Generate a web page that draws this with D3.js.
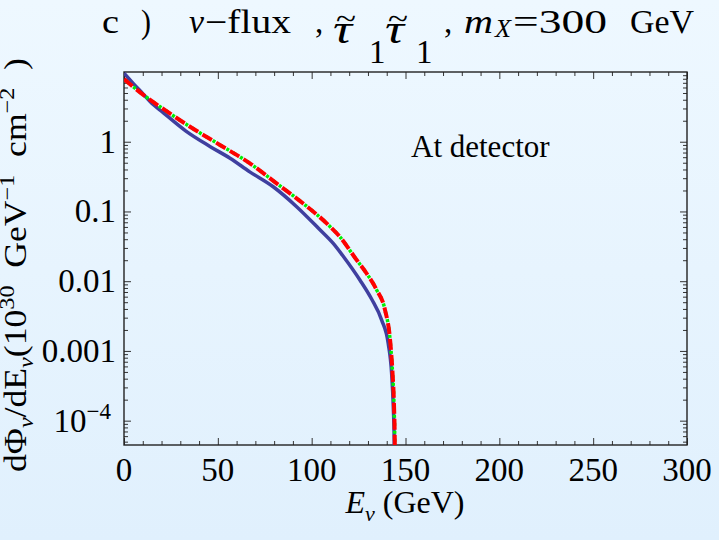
<!DOCTYPE html>
<html>
<head>
<meta charset="utf-8">
<script src="https://cdn.jsdelivr.net/npm/d3@7"></script>
<style>
body { margin: 0; background: #e8f4fe; }
svg text { font-family: 'Liberation Serif', 'DejaVu Serif', serif; fill: #000; }
</style>
</head>
<body>
<svg id="chart" width="719" height="540"></svg>
<script>
'use strict';

// energies (GeV) and flux (10^30 GeV^-1 cm^-2)
var blueE = [0, 5, 10, 14, 21, 33, 46, 56.5, 67, 79.5, 92, 104, 111.5, 117, 125.7, 132, 137.3, 140.8, 142.6, 143.5, 144.0, 144.1];
var blueFlux = [9.6, 6.8, 4.9, 3.75, 2.6, 1.42, 0.85, 0.58, 0.37, 0.226, 0.117, 0.056, 0.0348, 0.0224, 0.0104, 0.0055, 0.00277, 0.00128, 0.00048, 0.000158, 0.00005, 0.000001];

var redE = [0, 5, 10.3, 19.2, 35.2, 51.1, 67.1, 81.3, 95.5, 108, 115, 124, 129.3, 134.5, 139.1, 141.8, 143.1, 143.9, 144.3, 144.4];
var redFlux = [7.9, 6.1, 4.7, 3.18, 1.64, 0.9, 0.49, 0.253, 0.13, 0.0675, 0.0434, 0.0201, 0.0129, 0.0076, 0.00385, 0.00143, 0.00048, 0.00016, 0.00005, 0.000001];

var greenE = [0, 5, 10.3, 19.2, 35.2, 51.1, 67.1, 81.3, 95.5, 108, 115, 124, 129.3, 134.5, 139.1, 141.8, 143.1, 143.9, 144.3, 144.4];
var greenFlux = [7.9, 6.1, 4.7, 3.18, 1.64, 0.9, 0.49, 0.253, 0.13, 0.0675, 0.0434, 0.0201, 0.0129, 0.0076, 0.00385, 0.00143, 0.00048, 0.00016, 0.00005, 0.000001];

var xMajor = [0, 50, 100, 150, 200, 250, 300];
var xMinor = [10, 20, 30, 40, 60, 70, 80, 90, 110, 120, 130, 140, 160, 170, 180, 190, 210, 220, 230, 240, 260, 270, 280, 290];
var yMajor = [1, 0.1, 0.01, 0.001, 0.0001];
var yTickLabels = ['1', '0.1', '0.01', '0.001', '10'];

var svg = d3.select('#chart');
var plotLeft = 124, plotRight = 687, plotTop = 72, plotBottom = 445;

var x = d3.scaleLinear().domain([0, 300]).range([plotLeft, plotRight]);
var y = d3.scaleLog().domain([Math.pow(10, -4.349), 10]).range([plotBottom, plotTop]);

// background gradient
var defs = svg.append('defs');
var grad = defs.append('linearGradient').attr('id', 'bg')
    .attr('x1', 0).attr('y1', 0).attr('x2', 0).attr('y2', 1);
grad.append('stop').attr('offset', '0%').attr('stop-color', '#eef8ff');
grad.append('stop').attr('offset', '100%').attr('stop-color', '#e0f0fd');
svg.append('rect').attr('width', 719).attr('height', 540).attr('fill', 'url(#bg)');

defs.append('clipPath').attr('id', 'plot-clip')
    .append('rect')
    .attr('x', plotLeft).attr('y', plotTop)
    .attr('width', plotRight - plotLeft).attr('height', plotBottom - plotTop);

// minor log ticks (2..9 in each decade)
var yMinor = [];
for (var k = -5; k <= 0; k++) {
    for (var m = 2; m <= 9; m++) {
        var v = m * Math.pow(10, k);
        if (v >= y.domain()[0] && v <= y.domain()[1]) {
            yMinor.push(v);
        }
    }
}

function drawAxis(axis, tx, ty) {
    var g = svg.append('g')
        .attr('transform', 'translate(' + tx + ',' + ty + ')')
        .call(axis);
    g.select('.domain').remove();
    g.selectAll('line').attr('stroke', '#333').attr('stroke-width', 1);
    return g;
}

// ticks on all four sides, pointing inward
drawAxis(d3.axisBottom(x).tickValues(xMajor).tickSize(-7).tickFormat(''), 0, plotBottom);
drawAxis(d3.axisBottom(x).tickValues(xMinor).tickSize(-4).tickFormat(''), 0, plotBottom);
drawAxis(d3.axisTop(x).tickValues(xMajor).tickSize(-7).tickFormat(''), 0, plotTop);
drawAxis(d3.axisTop(x).tickValues(xMinor).tickSize(-4).tickFormat(''), 0, plotTop);
drawAxis(d3.axisLeft(y).tickValues(yMajor).tickSize(-7).tickFormat(''), plotLeft, 0);
drawAxis(d3.axisLeft(y).tickValues(yMinor).tickSize(-4).tickFormat(''), plotLeft, 0);
drawAxis(d3.axisRight(y).tickValues(yMajor).tickSize(-7).tickFormat(''), plotRight, 0);
drawAxis(d3.axisRight(y).tickValues(yMinor).tickSize(-4).tickFormat(''), plotRight, 0);

// x tick labels
svg.append('g').selectAll('text')
    .data(xMajor)
    .enter().append('text')
    .attr('x', function (d) { return x(d); })
    .attr('y', 481)
    .attr('text-anchor', 'middle')
    .attr('font-size', 33)
    .text(function (d) { return d; });

// y tick labels
var yLab = svg.append('g').selectAll('text')
    .data(yMajor)
    .enter().append('text')
    .attr('x', function (d, i) { return i === 4 ? 111 : 116; })
    .attr('y', function (d) { return y(d) + 11; })
    .attr('text-anchor', 'end')
    .attr('font-size', 33);
yLab.append('tspan').text(function (d, i) { return yTickLabels[i]; });
yLab.filter(function (d, i) { return i === 4; })
    .append('tspan')
    .attr('font-size', 23)
    .attr('dy', -13)
    .text('\u22124');

// frame
svg.append('rect')
    .attr('x', plotLeft).attr('y', plotTop)
    .attr('width', plotRight - plotLeft).attr('height', plotBottom - plotTop)
    .attr('fill', 'none')
    .attr('stroke', '#222')
    .attr('stroke-width', 1.4);

// curves
var line = d3.line()
    .x(function (d) { return x(d[0]); })
    .y(function (d) { return y(d[1]); })
    .curve(d3.curveMonotoneX);

var plot = svg.append('g').attr('clip-path', 'url(#plot-clip)');

plot.append('path')
    .attr('d', line(d3.zip(blueE, blueFlux)))
    .attr('fill', 'none')
    .attr('stroke', '#3f3f9f')
    .attr('stroke-width', 3.5);

//green dots sit in the gaps of the red dashes
plot.append('path')
    .attr('d', line(d3.zip(greenE, greenFlux)))
    .attr('fill', 'none')
    .attr('stroke', '#00ee00')
    .attr('stroke-width', 3.5)
    .attr('stroke-dasharray', '3,5')
    .attr('stroke-dashoffset', -12);

plot.append('path')
    .attr('d', line(d3.zip(redE, redFlux)))
    .attr('fill', 'none')
    .attr('stroke', '#ff0000')
    .attr('stroke-width', 4)
    .attr('stroke-dasharray', '11,5');

// annotation
svg.append('text')
    .attr('x', 411)
    .attr('y', 157)
    .attr('font-size', 31)
    .text('At detector');

// title (pieces stretched to the widths of the reference rendering)
var title = svg.append('g').attr('font-size', 33);
function titlePiece(str, px, py, width, italic, size) {
    var t = title.append('text')
        .attr('x', px)
        .attr('y', py)
        .text(str);
    if (width) {
        t.attr('textLength', width).attr('lengthAdjust', 'spacingAndGlyphs');
    }
    if (italic) {
        t.attr('font-style', 'italic');
    }
    if (size) {
        t.attr('font-size', size);
    }
    return t;
}
titlePiece('c', 102, 33, 17);
titlePiece(')', 141, 33, 10);
titlePiece('\u03bd', 189, 33, 15, true);
titlePiece('\u2212flux', 205, 33, 86);
titlePiece(',', 315, 33);
titlePiece('\u03c4', 333, 43, 19, true, 40);
titlePiece('~', 336, 29, 20, false, 30);
titlePiece('1', 369, 63);
titlePiece('\u03c4', 385, 43, 19, true, 40);
titlePiece('~', 388, 29, 20, false, 30);
titlePiece('1', 416, 63);
titlePiece(',', 444, 33);
titlePiece('m', 464, 33, 29, true);
titlePiece('X', 495, 37, 16, true, 25);
titlePiece('=300', 513, 33, 94);
titlePiece('GeV', 630, 33, 64);

// x axis title
var xt = svg.append('text')
    .attr('x', 405)
    .attr('y', 513)
    .attr('text-anchor', 'middle')
    .attr('font-size', 32);
xt.append('tspan').attr('font-style', 'italic').text('E');
xt.append('tspan').attr('font-style', 'italic').attr('font-size', 22).attr('dy', 8).text('\u03bd');
xt.append('tspan').attr('dy', -8).text(' (GeV)');

// y axis title, stretched along its length like the reference
var yt = svg.append('text')
    .attr('transform', 'translate(26,265) rotate(-90) scale(1.15,1)')
    .attr('text-anchor', 'middle')
    .attr('font-size', 31);
yt.append('tspan').text('d\u03a6');
yt.append('tspan').attr('font-size', 21).attr('dy', 7).attr('font-style', 'italic').text('\u03bd');
yt.append('tspan').attr('dy', -7).text('/dE');
yt.append('tspan').attr('font-size', 21).attr('dy', 7).attr('font-style', 'italic').text('\u03bd');
yt.append('tspan').attr('dy', -7).text('(10');
yt.append('tspan').attr('font-size', 21).attr('dy', -12).text('30');
yt.append('tspan').attr('dy', 12).text('\u00a0 GeV');
yt.append('tspan').attr('font-size', 21).attr('dy', -12).text('\u22121');
yt.append('tspan').attr('dy', 12).text('\u00a0 cm');
yt.append('tspan').attr('font-size', 21).attr('dy', -12).text('\u22122');
yt.append('tspan').attr('dy', 12).text('\u00a0 )');
</script>
</body>
</html>
